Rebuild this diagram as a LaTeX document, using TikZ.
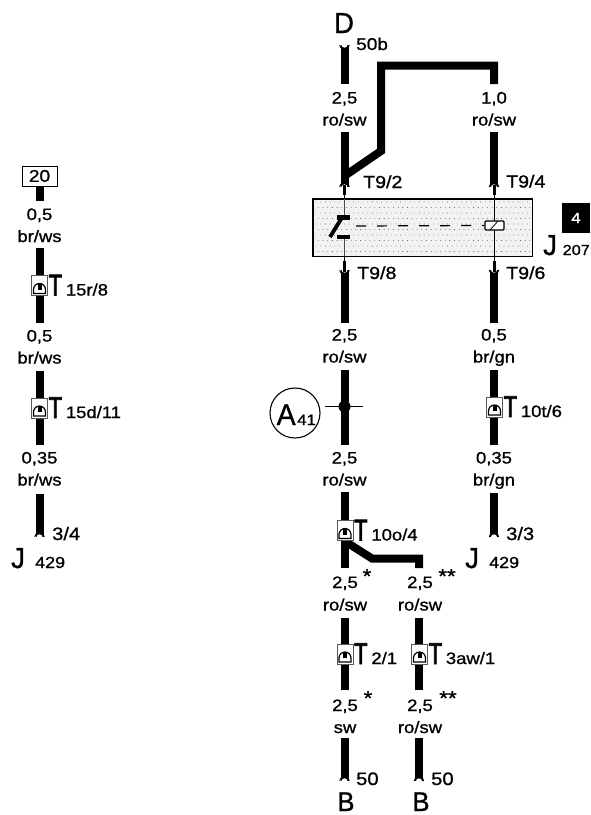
\documentclass[tikz,border=0pt]{standalone}
\usepackage{fontspec}
\setmainfont[FakeStretch=1.12,FakeBold=1]{Liberation Sans}
\newfontfamily\bigf[FakeStretch=.95,FakeBold=0.8]{Liberation Sans}
\newfontfamily\teef[FakeStretch=.72,FakeBold=2.5]{Liberation Sans}
\newcommand{\fsz}[1]{\fontsize{#1}{#1}\selectfont}
\newcommand{\plugbox}[3]{%
  \node[plugnode] (#1) at (#2) {};
  \draw[pinthin] ([shift={(-6,8)}]#1.center) -- ([shift={(-6,4)}]#1.center) arc[start angle=180,end angle=360,radius=6] -- ([shift={(6,8)}]#1.center) -- cycle;
  \fill ([shift={(-2,-2.5)}]#1.center) rectangle ([shift={(2,4)}]#1.center);
  \node[plugtext,anchor=base west] (#1t) at ([xshift=9,yshift=-10]#1.center) {{\teef\fsz{30}T}\kern4pt\fsz{16.5}#3};
}
% white arch cut into the end of a wire, feet flared (y axis points down here)
\newcommand{\notchup}[1]{%
  \fill[white] ([shift={(-3,0.3)}]#1) arc[start angle=180,end angle=360,radius=3] -- cycle;
  \draw[line width=.9pt] ([shift={(-4.8,0)}]#1) .. controls ([shift={(-4,-1)}]#1) and ([shift={(-3.5,-2)}]#1) .. ([shift={(-3.5,-3)}]#1);
  \draw[line width=.9pt] ([shift={(4.8,0)}]#1) .. controls ([shift={(4,-1)}]#1) and ([shift={(3.5,-2)}]#1) .. ([shift={(3.5,-3)}]#1);
}
\newcommand{\notchdown}[1]{%
  \fill[white] ([shift={(-3,-0.3)}]#1) arc[start angle=180,end angle=0,radius=3] -- cycle;
  \draw[line width=.9pt] ([shift={(-4.8,0)}]#1) .. controls ([shift={(-4,1)}]#1) and ([shift={(-3.5,2)}]#1) .. ([shift={(-3.5,3)}]#1);
  \draw[line width=.9pt] ([shift={(4.8,0)}]#1) .. controls ([shift={(4,1)}]#1) and ([shift={(3.5,2)}]#1) .. ([shift={(3.5,3)}]#1);
}
\tikzset{
  x=1pt,y=-1pt,
  wire/.style={line width=8pt,line cap=butt,line join=miter},
  lab/.style={font=\fsz{16.5},inner sep=0pt,anchor=base,yshift=-5.5pt},
  tip/.style={font=\fsz{18},inner sep=0pt,anchor=base west},
  small/.style={font=\fsz{16},inner sep=0pt,anchor=base west},
  pinlab/.style={font=\fsz{17.5},inner sep=0pt,anchor=base west},
  big/.style={font=\bigf\fsz{29},inner sep=0pt,anchor=base},
  stars/.style={font=\fsz{20},inner sep=0pt,anchor=base},
  plugnode/.style={draw=black!65,line width=.8pt,fill=white,minimum width=16pt,minimum height=20pt,inner sep=0pt},
  plugtext/.style={inner sep=0pt},
  pinthin/.style={line width=1.2pt},
  stem/.style={line width=3pt},
}
\begin{document}
\begin{tikzpicture}
\useasboundingbox (0,0) rectangle (590,815);
\fill[white] (0,0) rectangle (590,815);

% ---------- left column
\node[draw,line width=.9pt,inner sep=0pt,minimum width=35pt,minimum height=20pt,font=\fsz{17}] (b20) at (39.5,176) {20};
\coordinate (l1) at (39.5,201);
\draw[wire] (b20.south) -- (l1);
\node[lab] (l05a) at (39.5,214.5) {0,5};
\node[lab] (lbra) at (39.5,236.5) {br/ws};
\coordinate (l2) at (39.5,248);
\coordinate (l3) at (39.5,323);
\draw[wire] (l2) -- (l3);
\plugbox{pl1}{39.5,285.5}{15r/8}
\node[lab] (l05b) at (39.5,336) {0,5};
\node[lab] (lbrb) at (39.5,358) {br/ws};
\coordinate (l4) at (39.5,371);
\coordinate (l5) at (39.5,445);
\draw[wire] (l4) -- (l5);
\plugbox{pl2}{39.5,408}{15d/11}
\node[lab] (l035) at (39.5,458) {0,35};
\node[lab] (lbrc) at (39.5,480) {br/ws};
\coordinate (l6) at (39.5,494);
\coordinate (l7) at (39.5,537);
\draw[wire] (l6) -- (l7);
\notchup{l7}
\node[tip] (l34) at (52,540) {3/4};
\node[big,anchor=base west] (lJ) at (11,568) {J};
\node[small] (l429) at (35,568) {429};

% ---------- control unit box
\node[draw,line width=1pt,fill=black!5,minimum width=219pt,minimum height=57pt,inner sep=0pt] (unit) at (422.5,227.5) {};
\foreach \yy [count=\r] in {202,207.5,...,254}{
  \pgfmathsetmacro{\xs}{isodd(\r)?316:318.3}
  \pgfmathsetmacro{\xn}{\xs+4.7}
  \foreach \xx in {\xs,\xn,...,530}{
    \fill[black!70] (\xx,\yy) circle[radius=.42];
  }
}
\draw[line width=1pt] (unit.north west) rectangle (unit.south east);
\coordinate (swt) at (344,199);
\coordinate (swb) at (344,256);
\coordinate (rlt) at (494,199);
\coordinate (rlb) at (494,256);
\draw[line width=.6pt,black!70] (swt) -- (344,215);
\draw[line width=.6pt,black!70] (344,239) -- (swb);
\draw[line width=.8pt] (rlt) -- (rlb);
% switch
\fill (337,215) rectangle (350,220);
\fill (337,234.5) rectangle (350,239);
\draw[line width=3.8pt] (341.7,218) -- (330,237);
% relay coil
\node[draw,line width=1.1pt,fill=white,minimum width=19pt,minimum height=9pt,inner sep=0pt,rounded corners=1pt] (coil) at (494.5,225.5) {};
\draw[line width=.8pt] (490,230) -- (498,221);
\coordinate (dash0) at (356,226);
\draw[line width=1.2pt,dash pattern=on 10pt off 11pt] (dash0) -- (coil.west);

\node[fill=black,minimum width=28pt,minimum height=30pt,inner sep=0pt] (blk) at (576,218) {};
\node[font=\fsz{15},text=white,inner sep=0pt] (blk4) at (576,218) {4};
\node[big,anchor=base west] (uJ) at (543,255) {J};
\node[inner sep=0pt,anchor=base west,font=\fsz{14.5}] (u207) at (562.5,255) {207};

% ---------- middle wire
\node[big] (D) at (344,33) {D};
\coordinate (m0) at (344.5,45);
\coordinate (m1) at (344.5,84);
\draw[wire] (m0) -- (m1);
\notchdown{m0}
\node[small,font=\fsz{17}] (m50b) at (356,50) {50b};
\node[lab] (m25a) at (344.5,98) {2,5};
\node[lab] (mroa) at (344.5,120) {ro/sw};
\coordinate (m2) at (344.5,132);
\coordinate (m3) at (344.5,187);
\draw[wire] (m2) -- (m3);
\coordinate (j1) at (344.5,176);
\coordinate (j2) at (381,151);
\coordinate (j3) at (381,65.5);
\coordinate (j4) at (494,65.5);
\coordinate (j5) at (494,84);
\draw[line width=8pt,line join=miter] (j1) -- (j2) -- (j3) -- (j4) -- (j5);
\node[lab] (r10) at (494,98) {1,0};
\node[lab] (rroa) at (494,120) {ro/sw};
\coordinate (r1) at (494,132);
\coordinate (r2) at (494,187);
\draw[wire] (r1) -- (r2);
\notchup{m3}
\notchup{r2}
\draw[stem] (344,185) -- (344,195);
\draw[stem] (494,185) -- (494,195);
\draw[line width=.8pt] (344,195) -- (swt);
\draw[line width=.8pt] (494,195) -- (rlt);
\node[pinlab] (t92) at (363,188) {T9/2};
\node[pinlab] (t94) at (506,187.5) {T9/4};

\coordinate (m4) at (344.5,270);
\coordinate (m5) at (344.5,323);
\draw[wire] (m4) -- (m5);
\coordinate (r3) at (494,270);
\coordinate (r4) at (494,323);
\draw[wire] (r3) -- (r4);
\notchdown{m4}
\notchdown{r3}
\draw[line width=.8pt] (swb) -- (344,261);
\draw[line width=.8pt] (rlb) -- (494,261);
\draw[stem] (344,261) -- (344,272);
\draw[stem] (494,261) -- (494,272);
\node[pinlab] (t98) at (357,279) {T9/8};
\node[pinlab] (t96) at (506,279) {T9/6};

\node[lab] (m25b) at (344.5,335) {2,5};
\node[lab] (mrob) at (344.5,357) {ro/sw};
\coordinate (m6) at (344.5,370);
\coordinate (m7) at (344.5,445);
\draw[wire] (m6) -- (m7);
\node[draw,circle,line width=1.1pt,minimum size=50pt,inner sep=0pt] (A) at (295,413) {};
\node[inner sep=0pt,anchor=base west] (Atx) at (276.5,425) {{\bigf\fsz{30}A}\kern1.5pt\fsz{15}41};
\coordinate (x1) at (325,406.5);
\coordinate (x2) at (363,406.5);
\draw[line width=.8pt] (x1) -- (x2);
\fill (344.5,406.5) circle[radius=6];
\node[lab] (m25c) at (344.5,458) {2,5};
\node[lab] (mroc) at (344.5,480) {ro/sw};
\coordinate (m8) at (344.5,492);
\coordinate (m9) at (344.5,524);
\draw[wire] (m8) -- (m9);
\coordinate (n1) at (344.5,540);
\coordinate (n2) at (344.5,568);
\draw[wire] (n1) -- (n2);
\coordinate (k1) at (344.5,541);
\coordinate (k2) at (372,558.5);
\coordinate (k3) at (419,558.5);
\coordinate (k4) at (419,568);
\draw[line width=8pt,line join=miter] (k1) -- (k2) -- (k3) -- (k4);
\plugbox{pm1}{345,530.5}{10o/4}
\node[lab] (n25) at (345,582.5) {2,5};
\node[stars] (nstar) at (367,583) {*};
\node[lab] (o25) at (420,582.5) {2,5};
\node[stars] (ostar) at (447,583) {**};
\node[lab] (nro) at (345,605) {ro/sw};
\node[lab] (oro) at (420,605) {ro/sw};
\coordinate (n3) at (344.5,618);
\coordinate (n4) at (344.5,690);
\draw[wire] (n3) -- (n4);
\coordinate (o3) at (419,618);
\coordinate (o4) at (419,690);
\draw[wire] (o3) -- (o4);
\plugbox{pn}{345,654}{2/1}
\plugbox{po}{419.5,654}{3aw/1}
\node[lab] (n25b) at (345,705.5) {2,5};
\node[stars] (nstb) at (368,705) {*};
\node[lab] (o25b) at (420,705.5) {2,5};
\node[stars] (ostb) at (448,705) {**};
\node[lab] (nsw) at (345,727.5) {sw};
\node[lab] (orob) at (420,727.5) {ro/sw};
\coordinate (n5) at (344.5,738);
\coordinate (n6) at (344.5,781);
\draw[wire] (n5) -- (n6);
\coordinate (o5) at (419,738);
\coordinate (o6) at (419,781);
\draw[wire] (o5) -- (o6);
\notchup{n6}
\notchup{o6}
\node[tip] (n50) at (356,785) {50};
\node[tip] (o50) at (431,785) {50};
\node[big,font=\bigf\fsz{27}] (nB) at (346,811) {B};
\node[big,font=\bigf\fsz{27}] (oB) at (421,811) {B};

% ---------- right wire lower
\node[lab] (r05) at (494,335) {0,5};
\node[lab] (rbr) at (494,357) {br/gn};
\coordinate (r5) at (494,370);
\coordinate (r6) at (494,445);
\draw[wire] (r5) -- (r6);
\plugbox{pr}{494.5,407}{10t/6}
\node[lab] (r035) at (494,458) {0,35};
\node[lab] (rbrb) at (494,480) {br/gn};
\coordinate (r7) at (494,493);
\coordinate (r8) at (494,537);
\draw[wire] (r7) -- (r8);
\notchup{r8}
\node[tip] (r33) at (506,540) {3/3};
\node[big,anchor=base west] (rJ) at (465,568) {J};
\node[small] (r429) at (489,568) {429};
\end{tikzpicture}
\end{document}
